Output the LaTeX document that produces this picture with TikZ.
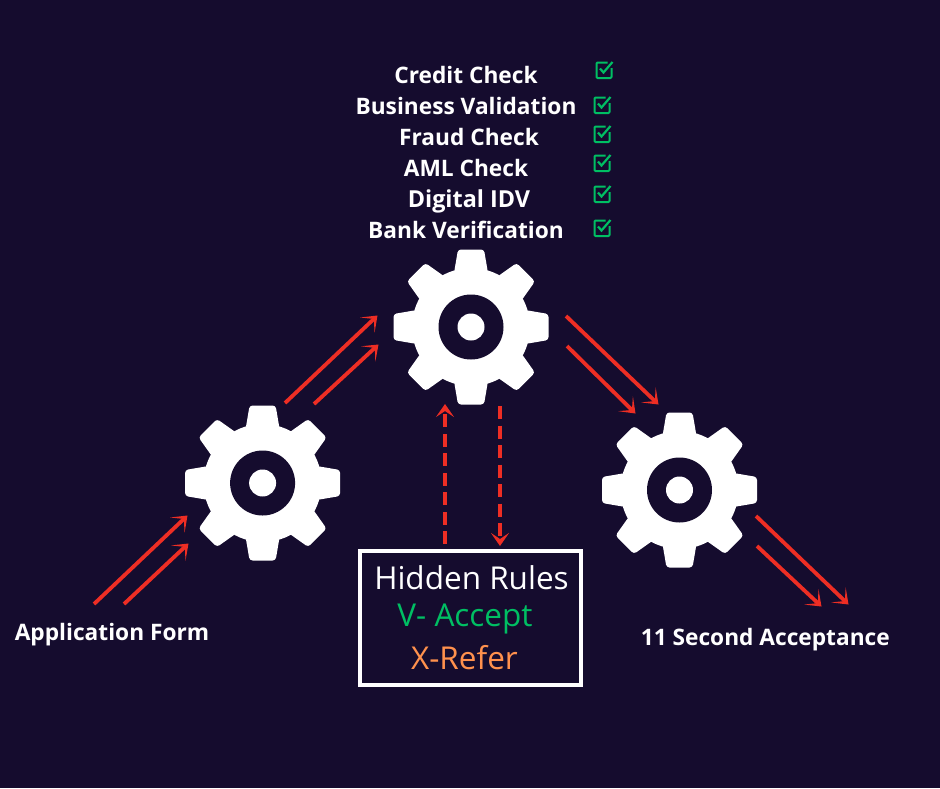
\documentclass[tikz,border=0pt]{standalone}
\usepackage{fontspec}
\setmainfont{Open Sans}
\usetikzlibrary{arrows.meta}
\definecolor{night}{HTML}{150C2E}
\definecolor{flow}{HTML}{EE2E24}
\definecolor{okgreen}{HTML}{00BF63}
\definecolor{referorange}{HTML}{FF914D}
\tikzset{
  x=1pt,y=-1pt,
  flowarrow/.style={draw=flow,line width=3.8pt,-{Stealth[length=14pt,width=21pt,inset=9pt]}},
  ruleflow/.style={draw=flow,line width=3.9pt,dash pattern=on 13pt off 6.5pt,-{Stealth[length=13pt,width=18pt,inset=6pt]}},
  checklabel/.style={font=\bfseries\fontsize{22.7}{22.7}\selectfont,text=white,anchor=base,inner sep=0pt},
  rulelabel/.style={font=\fontsize{31.5}{31.5}\selectfont,anchor=base,inner sep=0pt},
  hub/.style={circle,fill=white,inner sep=0pt,minimum size=27pt},
  gear/.pic={
    \foreach \a in {0,45,...,315}{
      \fill[white,rotate=\a,rounded corners=3pt]
        (-17,-54) -- (-13,-77.5) -- (13,-77.5) -- (17,-54) -- cycle;
    }
    \fill[white] (0,0) circle[radius=59];
    \fill[night] (0,0) circle[radius=32.5];
  },
  checkmark/.pic={
    \draw[okgreen,line width=2pt,line join=round,rounded corners=1pt]
      (3.5,-7.5) -- (-7.5,-7.5) -- (-7.5,8) -- (7.5,8) -- (7.5,-2);
    \draw[okgreen,line width=2.2pt,line join=miter]
      (-4,-1.5) -- (-0.5,2.5) -- (8.5,-8);
  }
}
\begin{document}
\begin{tikzpicture}
\useasboundingbox (0,0) rectangle (940,788);
\fill[night] (0,0) rectangle (940,788);

% Gears, with a named hub in each
\pic at (262.6,483) {gear};
\pic at (471,327) {gear};
\pic at (679.5,490) {gear};
\node[hub] (gearA) at (262.6,483) {};
\node[hub] (gearB) at (471,327) {};
\node[hub] (gearC) at (679.5,490) {};

% Checklist above the middle gear
\node[checklabel] (credit) at (466,83) {Credit Check};
\node[checklabel] (business) at (466,114) {Business Validation};
\node[checklabel] (fraud) at (469,145) {Fraud Check};
\node[checklabel] (aml) at (466,176) {AML Check};
\node[checklabel,font=\bfseries\fontsize{23.4}{23.4}\selectfont] (idv) at (469,207.3) {Digital IDV};
\node[checklabel] (bank) at (466,238) {Bank Verification};
\pic at (604,70) {checkmark};
\pic at (602,105) {checkmark};
\pic at (602,134) {checkmark};
\pic at (602,163) {checkmark};
\pic at (602,194) {checkmark};
\pic at (602,228) {checkmark};

% Outer labels
\node[checklabel] (form) at (112,640) {Application Form};
\node[checklabel] (accept) at (765.3,645) {11 Second Acceptance};

% Rules box
\node[draw=white,line width=3.8pt,fill=night,minimum width=221.5pt,minimum height=134pt,inner sep=0pt] (rules) at (470.5,618) {};
\node[rulelabel,text=white] (hidden) at (471.5,589.5) {Hidden Rules};
\node[rulelabel,text=okgreen] (vaccept) at (465,626) {V- Accept};
\node[rulelabel,text=referorange] (xrefer) at (464.5,669) {X-Refer};

% Arrow end points
\coordinate (a1s) at (94,604);  \coordinate (a1e) at (187.5,515.5);
\coordinate (a2s) at (124,604); \coordinate (a2e) at (188.5,543.5);
\coordinate (b1s) at (285,403); \coordinate (b1e) at (377.5,315.5);
\coordinate (b2s) at (314,404); \coordinate (b2e) at (378.5,344.5);
\coordinate (c1s) at (566,316); \coordinate (c1e) at (658.5,404.5);
\coordinate (c2s) at (567,346); \coordinate (c2e) at (635.5,413.5);
\coordinate (d1s) at (756,516); \coordinate (d1e) at (848.5,604.5);
\coordinate (d2s) at (757,546); \coordinate (d2e) at (821.5,606.5);
\coordinate (upS) at (445,544); \coordinate (upE) at (445,404);
\coordinate (dnS) at (500,406); \coordinate (dnE) at (500,546);

\draw[flowarrow] (a1s) -- (a1e);
\draw[flowarrow] (a2s) -- (a2e);
\draw[flowarrow] (b1s) -- (b1e);
\draw[flowarrow] (b2s) -- (b2e);
\draw[flowarrow] (c1s) -- (c1e);
\draw[flowarrow] (c2s) -- (c2e);
\draw[flowarrow] (d1s) -- (d1e);
\draw[flowarrow] (d2s) -- (d2e);
\draw[ruleflow] (upS) -- (upE);
\draw[ruleflow] (dnS) -- (dnE);
\end{tikzpicture}
\end{document}
